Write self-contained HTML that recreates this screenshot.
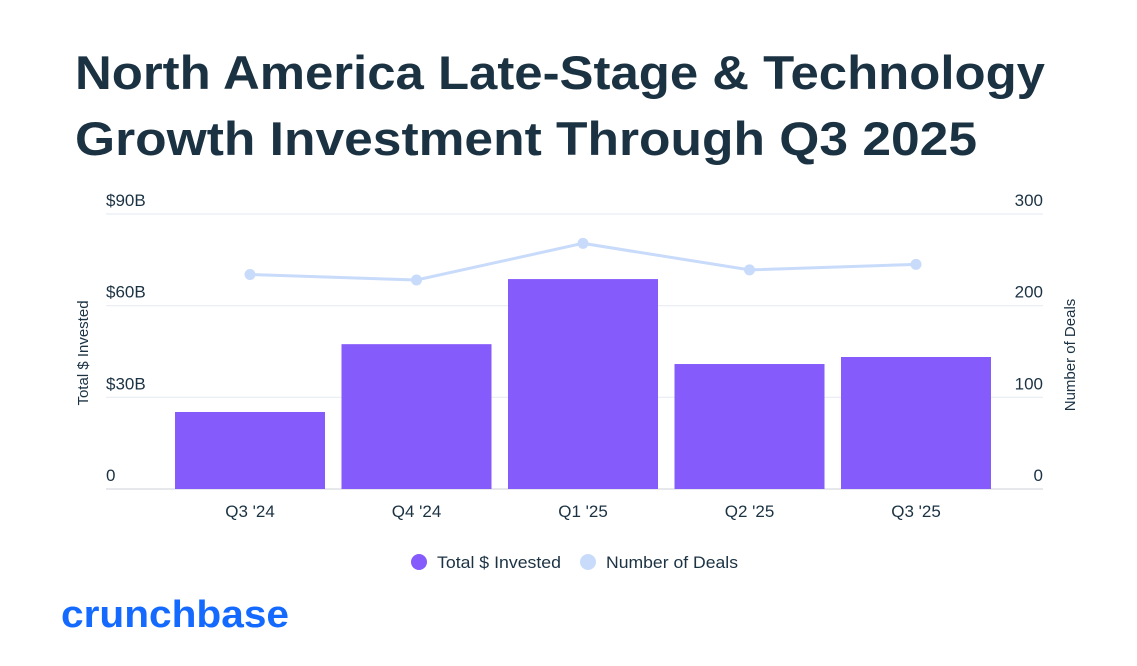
<!DOCTYPE html>
<html><head><meta charset="utf-8"><style>
html,body{margin:0;padding:0;background:#fff;}
svg{display:block;font-family:"Liberation Sans",sans-serif;}
</style></head><body>
<svg id="chart" width="1137" height="666" viewBox="0 0 1137 666">
<text x="75" y="89" font-size="47" font-weight="bold" fill="#1b3243" textLength="970" lengthAdjust="spacingAndGlyphs">North America Late-Stage &amp; Technology</text>
<text x="75" y="155" font-size="47" font-weight="bold" fill="#1b3243" textLength="902" lengthAdjust="spacingAndGlyphs">Growth Investment Through Q3 2025</text>
<g id="grid"></g><g id="bars"></g><g id="line"></g><g id="axes"></g>
<text transform="translate(88,353) rotate(-90)" text-anchor="middle" font-size="15" fill="#1b3243">Total $ Invested</text>
<text transform="translate(1075,355) rotate(-90)" text-anchor="middle" font-size="15" fill="#1b3243">Number of Deals</text>
<g>
<circle cx="419" cy="562" r="8" fill="#855bfb"/>
<text x="437" y="568" font-size="17" fill="#1b3243" textLength="124" lengthAdjust="spacingAndGlyphs">Total $ Invested</text>
<circle cx="588" cy="562" r="8" fill="#c8dbfa"/>
<text x="606" y="568" font-size="17" fill="#1b3243" textLength="132" lengthAdjust="spacingAndGlyphs">Number of Deals</text>
</g>
<text x="61" y="627" font-size="38" font-weight="bold" fill="#146aff" textLength="228" lengthAdjust="spacingAndGlyphs">crunchbase</text>
</svg>
<script>
const categories=["Q3 '24","Q4 '24","Q1 '25","Q2 '25","Q3 '25"];
const invested=[25.2,47.4,68.7,40.9,43.2];
const deals=[234,228,268,239,245];
const leftTicks=[0,30,60,90];
const leftTickLabels=["0","$30B","$60B","$90B"];
const rightTickLabels=["0","100","200","300"];
const NS="http://www.w3.org/2000/svg";
const x0=166.75,bw=166.5,y0=489,yTop=214;
const yL=v=>y0-(v/90)*(y0-yTop);
const yR=v=>y0-(v/300)*(y0-yTop);
const xc=i=>x0+bw*(i+0.5);
function mk(tag,attrs,parent,txt){const e=document.createElementNS(NS,tag);for(const k in attrs)e.setAttribute(k,attrs[k]);if(txt!==undefined)e.textContent=txt;document.getElementById(parent).appendChild(e);return e;}
leftTicks.forEach((t,i)=>{
  const y=yL(t);
  const g=mk('line',{x1:106,x2:1043,y1:y,y2:y,stroke:i===0?'#e6e8ec':'#e8ecf2','stroke-width':i===0?2:1.2},'grid');
  
  
  const a=mk('text',{x:106,y:y-8,'font-size':17,fill:'#1b3243'},'axes',leftTickLabels[i]);
  
  
  const b=mk('text',{x:1043,y:y-8,'font-size':17,fill:'#1b3243','text-anchor':'end'},'axes',rightTickLabels[i]);
  
  
});
categories.forEach((c,i)=>{
  const r=mk('rect',{x:xc(i)-75,y:yL(invested[i]),width:150,height:y0-yL(invested[i]),fill:'#855bfb'},'bars');
  
  
  const t=mk('text',{x:xc(i),y:517,'font-size':17,fill:'#1b3243','text-anchor':'middle'},'axes',c);
  
  
});
const pts=deals.map((d,i)=>xc(i)+','+yR(d)).join(' ');
const pl=mk('polyline',{points:pts,fill:'none',stroke:'#c8dbfa','stroke-width':3},'line');


deals.forEach((d,i)=>{
  const p=mk('circle',{cx:xc(i),cy:yR(d),r:5.5,fill:'#c8dbfa'},'line');
  
  
});
</script>
</body></html>
